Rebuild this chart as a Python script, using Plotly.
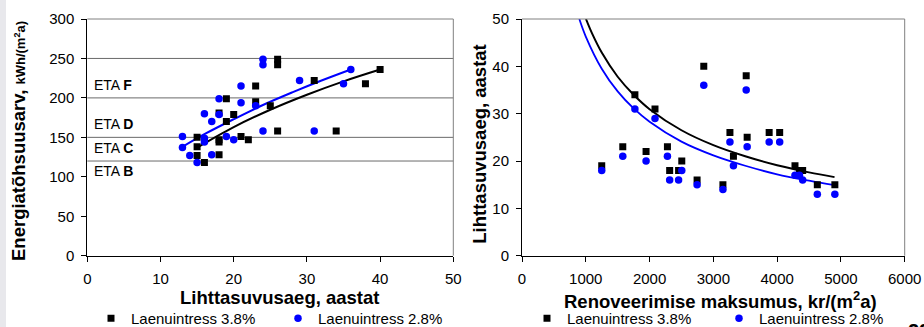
import plotly.graph_objects as go

# ---------------- data ----------------
# Left chart: payback (years) vs energy performance value
left_x_38 = [15, 15, 15, 16, 18, 18, 18, 18, 19, 19, 20, 21, 22, 23, 23, 25, 26, 26, 26, 31, 34, 38, 40]
left_y_38 = [150, 138, 127, 118, 181, 147, 144, 128, 199, 170, 179, 151, 147, 215, 195, 190, 249, 242, 158, 222, 158, 218, 236]
left_x_28 = [13, 13, 14, 15, 16, 16, 16, 17, 17, 18, 18, 19, 20, 21, 21, 23, 24, 24, 24, 29, 31, 35, 36]
left_y_28 = [151, 137, 127, 118, 180, 149, 144, 170, 128, 199, 179, 151, 147, 215, 194, 190, 249, 242, 158, 222, 158, 218, 236]

trend38_x = [15, 20, 25, 30, 35, 40]
trend38_y = [137, 163, 185, 204, 221, 236]
trend28_x = [13, 16, 20, 24, 28, 32, 36]
trend28_y = [138, 154, 173, 191, 207, 222, 236]

eta_levels = [250, 200, 150, 120]
eta_label_y = [216, 166.5, 137, 107]
eta_letters = ["F", "D", "C", "B"]

# Right chart: renovation cost vs payback
cost = [1250, 1580, 1770, 1945, 2085, 2280, 2315, 2455, 2505, 2745, 2850, 3150, 3260, 3315, 3515, 3530, 3875, 4040, 4280, 4350, 4400, 4630, 4905]
pay38 = [19, 23, 34, 22, 31, 23, 18, 18, 20, 16, 40, 15, 26, 21, 38, 25, 26, 26, 19, 18, 18, 15, 15]
pay28 = [18, 21, 31, 20, 29, 21, 16, 16, 18, 15, 36, 14, 24, 19, 35, 23, 24, 24, 17, 17, 16, 13, 13]

curve38_x = [1003, 1100, 1250, 1500, 1750, 2000, 2500, 3000, 3500, 4000, 4500, 4900]
curve38_y = [50, 46.9, 42.9, 37.8, 34.0, 30.95, 26.5, 23.35, 21.0, 19.1, 17.6, 16.6]
curve28_x = [899, 1000, 1250, 1500, 1750, 2000, 2500, 3000, 3500, 4000, 4500, 4900]
curve28_y = [50, 46.3, 39.5, 34.7, 31.1, 28.3, 24.1, 21.2, 19.0, 17.2, 15.85, 14.9]

name38 = "Laenuintress 3.8%"
name28 = "Laenuintress 2.8%"

# ---------------- figure ----------------
W, H = 924, 327
MB = 50  # bottom margin (legends live there)
FONT = "Liberation Sans, Arial, sans-serif"

def px(x):
    return x / W

def py(y):
    # pixel (from top) -> paper fraction of plot area (margins l=r=t=0, b=MB)
    return (H - MB - y) / (H - MB)

def pyc(y):
    # pixel (from top) -> container fraction
    return 1 - y / H

fig = go.Figure()

# left
fig.add_trace(go.Scatter(x=trend38_x, y=trend38_y, mode="lines", line=dict(color="black", width=2, shape="spline"),
                         showlegend=False, xaxis="x", yaxis="y", hoverinfo="skip"))
fig.add_trace(go.Scatter(x=trend28_x, y=trend28_y, mode="lines", line=dict(color="#0000ff", width=2, shape="spline"),
                         showlegend=False, xaxis="x", yaxis="y", hoverinfo="skip"))
fig.add_trace(go.Scatter(x=left_x_38, y=left_y_38, mode="markers", name=name38,
                         marker=dict(symbol="square", size=7, color="black"), xaxis="x", yaxis="y", legend="legend"))
fig.add_trace(go.Scatter(x=left_x_28, y=left_y_28, mode="markers", name=name28,
                         marker=dict(symbol="circle", size=7.5, color="#0000ff"), xaxis="x", yaxis="y", legend="legend"))

# right
fig.add_trace(go.Scatter(x=curve38_x, y=curve38_y, mode="lines", line=dict(color="black", width=2, shape="spline"),
                         showlegend=False, xaxis="x2", yaxis="y2", hoverinfo="skip"))
fig.add_trace(go.Scatter(x=curve28_x, y=curve28_y, mode="lines", line=dict(color="#0000ff", width=1.8, shape="spline"),
                         showlegend=False, xaxis="x2", yaxis="y2", hoverinfo="skip"))
fig.add_trace(go.Scatter(x=cost, y=pay38, mode="markers", name=name38,
                         marker=dict(symbol="square", size=7, color="black"), xaxis="x2", yaxis="y2", legend="legend2"))
fig.add_trace(go.Scatter(x=cost, y=pay28, mode="markers", name=name28,
                         marker=dict(symbol="circle", size=7.5, color="#0000ff"), xaxis="x2", yaxis="y2", legend="legend2"))

y_dom = [py(255.7), py(19)]
axis_common = dict(showline=True, linecolor="black", linewidth=1, ticks="outside", ticklen=5, tickcolor="black",
                   tickwidth=1, showgrid=False, zeroline=False, automargin=False,
                   tickfont=dict(size=15, color="black", family=FONT))

fig.update_layout(
    width=W, height=H, margin=dict(l=0, r=0, t=0, b=MB, autoexpand=False),
    paper_bgcolor="white", plot_bgcolor="white",
    font=dict(family=FONT, color="black"),
    xaxis=dict(domain=[px(87.3), px(453.3)], range=[0, 50], dtick=10, anchor="y", ticklabelstandoff=4, **axis_common),
    yaxis=dict(domain=y_dom, range=[0, 300], dtick=50, anchor="x", ticklabelstandoff=4, **axis_common),
    xaxis2=dict(domain=[px(522), px(904.7)], range=[0, 6000], dtick=1000, anchor="y2", ticklabelstandoff=4, **axis_common),
    yaxis2=dict(domain=y_dom, range=[0, 50], dtick=10, anchor="x2", ticklabelstandoff=4, **axis_common),
    legend=dict(orientation="h", xref="container", yref="container", x=px(91), y=pyc(318.5),
                xanchor="left", yanchor="middle", font=dict(size=15),
                bgcolor="rgba(0,0,0,0)", entrywidth=142, itemwidth=30),
    legend2=dict(orientation="h", xref="container", yref="container", x=px(527), y=pyc(318.5),
                 xanchor="left", yanchor="middle", font=dict(size=15),
                 bgcolor="rgba(0,0,0,0)", entrywidth=147, itemwidth=30),
)

shapes = []
# left grey strip
shapes.append(dict(type="rect", xref="paper", yref="paper", x0=0, x1=px(6), y0=py(H), y1=py(0),
                   fillcolor="#e8e8ec", line=dict(width=0), layer="below"))
# frame (top + right) in grey
for xr, yr in (("x", "y"), ("x2", "y2")):
    shapes.append(dict(type="line", xref=f"{xr} domain", yref=f"{yr} domain", x0=0, x1=1, y0=1, y1=1,
                       line=dict(color="#808080", width=1)))
    shapes.append(dict(type="line", xref=f"{xr} domain", yref=f"{yr} domain", x0=1, x1=1, y0=0, y1=1,
                       line=dict(color="#808080", width=1)))
# ETA class lines
for lv in eta_levels:
    shapes.append(dict(type="line", xref="x domain", yref="y", x0=0, x1=1, y0=lv, y1=lv,
                       line=dict(color="#6a6a6a", width=1), layer="below"))
fig.update_layout(shapes=shapes)

ann = []
for ly, letter in zip(eta_label_y, eta_letters):
    ann.append(dict(x=0.6, y=ly, xref="x", yref="y", xanchor="left", yanchor="middle", showarrow=False,
                    text=f"ETA <b>{letter}</b>", font=dict(size=14, color="black")))

title_font = dict(size=18.5, color="black", family=FONT)
ann.append(dict(x=px(279.5), y=py(297), xref="paper", yref="paper", showarrow=False, xanchor="center", yanchor="middle",
                text="<b>Lihttasuvusaeg, aastat</b>", font=title_font))
ann.append(dict(x=px(720.3), y=py(299.5), xref="paper", yref="paper", showarrow=False, xanchor="center", yanchor="middle",
                text="<b>Renoveerimise maksumus, kr/(m<sup>2</sup>a)</b>", font=title_font))
ann.append(dict(x=px(18), y=py(141), xref="paper", yref="paper", showarrow=False, xanchor="center", yanchor="middle",
                textangle=-90,
                text="<b>Energiatõhsuusarv, <span style='font-size:13px'>kWh/(m<sup>2</sup>a)</span></b>", font=title_font))
ann.append(dict(x=px(478.7), y=py(144), xref="paper", yref="paper", showarrow=False, xanchor="center", yanchor="middle",
                textangle=-90, text="<b>Lihttasuvusaeg, aastat</b>", font=title_font))
ann.append(dict(x=px(906), y=py(318), xref="paper", yref="paper", showarrow=False, xanchor="left", yanchor="top",
                text="<b>22</b>", font=dict(size=20, color="black")))
fig.update_layout(annotations=ann)

fig.write_html("out.html", config={"displayModeBar": False},
               post_script="document.body.style.margin='0px';document.body.style.overflow='hidden';")
